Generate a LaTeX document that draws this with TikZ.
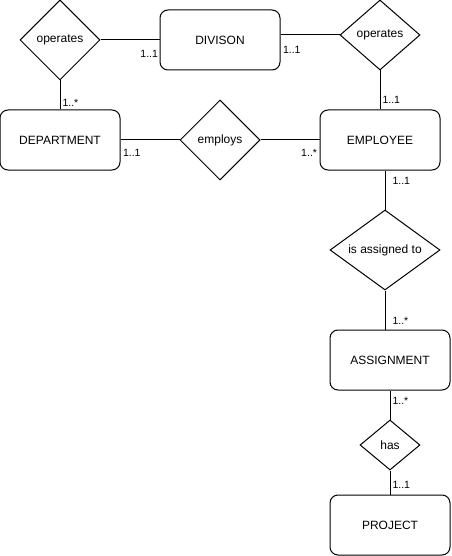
\documentclass[tikz,border=0pt]{standalone}
\usepackage{fontspec}
\setmainfont{Liberation Sans}
\usepackage{tikz}
\usetikzlibrary{shapes.geometric, positioning}
\tikzstyle{entity} = [
    rectangle, 
    rounded corners=8pt, 
    minimum width=120pt, 
    minimum height=60pt, 
    text centered, 
    draw=black, 
    line width=1pt,
    font=\fontsize{12}{14}\selectfont
]
\tikzstyle{relation} = [
    diamond, 
    aspect=1, 
    inner sep=0pt, 
    minimum width=80pt, 
    minimum height=80pt, 
    draw=black, 
    line width=1pt,
    font=\fontsize{12}{14}\selectfont
]
\tikzstyle{link} = [
    line width=1pt, 
    color=black
]
\tikzstyle{card} = [
    inner sep=0pt, 
    font=\fontsize{10.5}{12}\selectfont
]

\begin{document}
\begin{tikzpicture}[x=1pt, y=-1pt]
        \useasboundingbox (0,0) rectangle (451,556);

        % Entities
        \node[entity] (div) at (220,40) {DIVISON};
        \node[entity] (dep) at (60,140) {DEPARTMENT};
        \node[entity] (emp) at (380,140) {EMPLOYEE};
        \node[entity] (asn) at (390,360) {ASSIGNMENT};
        \node[entity] (prj) at (390,525) {PROJECT};

        % Relationships
        \node[relation] (opl) at (60,40) {operates};
        \node[relation, minimum height=70pt] (opr) at (380,35) {operates};
        \node[relation] (emy) at (220,140) {employs};
        \node[relation, minimum width=110pt, aspect=1.375] (asg) at (385,250) {is assigned to};
        \node[relation, minimum width=60pt, minimum height=50pt] (has) at (390,445) {has};

        % Links
        \draw[link] (opl.east) -- (div.west)
            node[card, anchor=east, xshift=-1pt, yshift=-14pt] (c1) {1..1};
        \draw[link] (opr.west) -- (opr.west -| div.east)
            node[card, anchor=west, xshift=2pt, yshift=-15pt] (c2) {1..1};
        \draw[link] (opl.south) -- (dep.north)
            node[card, anchor=west, xshift=2pt, yshift=7pt] (c3) {1..*};
        \draw[link] (opr.south) -- (emp.north)
            node[card, anchor=west, xshift=2pt, yshift=10pt] (c4) {1..1};
        \draw[link] (dep.east) node[card, anchor=west, xshift=2pt, yshift=-13pt] (c5) {1..1}
            -- (emy.west);
        \draw[link] (emy.east) -- (emp.west)
            node[card, anchor=east, xshift=-2pt, yshift=-13pt] (c6) {1..*};
        \draw[link] (asg.north) -- (asg.north |- emp.south)
            node[card, anchor=west, xshift=7pt, yshift=-10pt] (c7) {1..1};
        \draw[link] (asg.south) -- (asg.south |- asn.north)
            node[card, anchor=west, xshift=7pt, yshift=9pt] (c8) {1..*};
        \draw[link] (asn.south) node[card, anchor=west, xshift=2pt, yshift=-10pt] (c9) {1..*}
            -- (has.north);
        \draw[link] (has.south) -- (prj.north)
            node[card, anchor=west, xshift=2pt, yshift=10pt] (c10) {1..1};
    \end{tikzpicture}
\end{document}
